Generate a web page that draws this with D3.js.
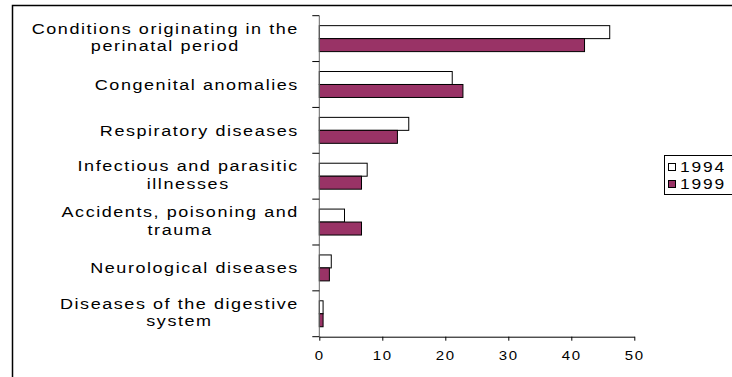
<!DOCTYPE html>
<html>
<head>
<meta charset="utf-8">
<script src="https://cdn.jsdelivr.net/npm/d3@7"></script>
<style>
  body { margin: 0; background: #fff; }
  text { font-family: "Liberation Sans", Arial, sans-serif; fill: #000; }
</style>
</head>
<body>
<svg id="chart" width="732" height="377"></svg>
<script>
const categories = [
  ['Conditions originating in the', 'perinatal period'],
  ['Congenital anomalies'],
  ['Respiratory diseases'],
  ['Infectious and parasitic', 'illnesses'],
  ['Accidents, poisoning and', 'trauma'],
  ['Neurological diseases'],
  ['Diseases of the digestive', 'system']
];
const seriesNames = ['1994', '1999'];
const values1994 = [46.1, 21.1, 14.2, 7.6, 4.0, 1.9, 0.6];
const values1999 = [42.1, 22.8, 12.4, 6.7, 6.7, 1.6, 0.6];
const xTicks = [0, 10, 20, 30, 40, 50];

const colors = { '1994': '#ffffff', '1999': '#993366' };
const stretch = 1.2;

const svg = d3.select('#chart');

// outer frame (right and bottom edges fall outside the picture)
svg.append('rect')
  .attr('x', 12.5).attr('y', 5.5)
  .attr('width', 800).attr('height', 400)
  .attr('fill', 'none').attr('stroke', '#000').attr('stroke-width', 1.5);

const keys = categories.map((d, i) => i);
const y = d3.scaleBand().domain(keys).range([15.7, 336.7]).padding(0);
const x = d3.scaleLinear().domain([0, 50]).range([319.3, 634.3]);
const inner = d3.scaleBand().domain(seriesNames)
  .range([y.bandwidth() * 0.217, y.bandwidth() * 0.783]);

const rows = keys.map((i) => ({
  i,
  vals: [
    { key: '1994', value: values1994[i] },
    { key: '1999', value: values1999[i] }
  ]
}));

const groups = svg.selectAll('.cat')
  .data(rows)
  .enter()
  .append('g')
  .attr('class', 'cat')
  .attr('transform', (d) => `translate(0,${y(d.i)})`);

groups.selectAll('rect')
  .data((d) => d.vals)
  .enter()
  .append('rect')
  .attr('x', x(0))
  .attr('y', (d) => inner(d.key))
  .attr('width', (d) => x(d.value) - x(0))
  .attr('height', inner.bandwidth())
  .attr('fill', (d) => colors[d.key])
  .attr('stroke', '#000')
  .attr('stroke-width', 1);

// y axis: line and ticks at band edges
const yEdges = keys.map((i) => y(i)).concat([y.range()[1]]);
svg.append('line')
  .attr('x1', x(0)).attr('x2', x(0))
  .attr('y1', y.range()[0]).attr('y2', y.range()[1])
  .attr('stroke', '#666').attr('stroke-width', 1);
svg.selectAll('.ytick')
  .data(yEdges)
  .enter()
  .append('line')
  .attr('x1', x(0) - 7).attr('x2', x(0))
  .attr('y1', (d) => d).attr('y2', (d) => d)
  .attr('stroke', '#000');

// x axis
const xAxis = svg.append('g')
  .attr('transform', `translate(0,${y.range()[1]})`)
  .call(d3.axisBottom(x).tickValues(xTicks).tickSize(4).tickSizeOuter(0).tickFormat(d3.format('d')));
xAxis.select('.domain').attr('stroke', '#000');
xAxis.selectAll('.tick line').attr('stroke', '#000');
xAxis.selectAll('.tick text')
  .attr('y', 0).attr('dy', 0)
  .attr('transform', `translate(0,23) scale(${stretch},1)`)
  .style('font-size', '12.5px')
  .style('letter-spacing', '1.5px')
  .style('font-family', '"Liberation Sans", Arial, sans-serif')
  .attr('fill', '#000');

// category labels: lines centred within block, block right-aligned
groups.each(function (d) {
  const lines = categories[d.i];
  const cy = y.bandwidth() / 2;
  const g = d3.select(this).append('g');
  const t = g.selectAll('text')
    .data(lines)
    .enter()
    .append('text')
    .attr('text-anchor', 'middle')
    .style('font-size', '15px')
    .style('letter-spacing', '1.3px')
    .attr('y', (l, j) => lines.length === 1 ? cy + 5.5 : cy - 5 + j * 17.5)
    .text((l) => l);
  const w = d3.max(t.nodes(), (n) => n.getComputedTextLength()) * stretch;
  g.attr('transform', `translate(${299 - w / 2},0) scale(${stretch},1)`);
});

// legend
const legend = svg.append('g').attr('transform', 'translate(664,155)');
legend.append('rect')
  .attr('x', 0.5).attr('y', 0.5)
  .attr('width', 100).attr('height', 39)
  .attr('fill', '#fff').attr('stroke', '#000');
const item = legend.selectAll('.item')
  .data(seriesNames)
  .enter()
  .append('g')
  .attr('transform', (d, i) => `translate(4,${8 + i * 17})`);
item.append('rect')
  .attr('x', 0.5).attr('y', 0.5)
  .attr('width', 7).attr('height', 7)
  .attr('fill', (d) => colors[d])
  .attr('stroke', '#000');
item.append('text')
  .attr('transform', `translate(12,9) scale(${stretch},1)`)
  .style('font-size', '14.5px')
  .style('letter-spacing', '1.5px')
  .text((d) => d);
</script>
</body>
</html>
